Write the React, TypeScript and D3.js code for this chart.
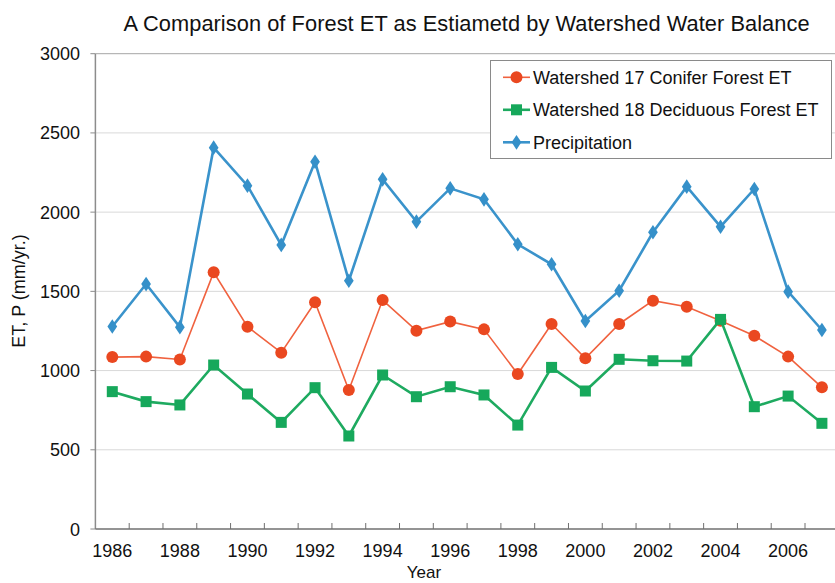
import { line, scaleBand, scaleLinear, symbol, symbolDiamond } from "d3";

const years = [
  1986, 1987, 1988, 1989, 1990, 1991, 1992, 1993, 1994, 1995, 1996, 1997,
  1998, 1999, 2000, 2001, 2002, 2003, 2004, 2005, 2006, 2007,
];
const conifer = [
  1085, 1088, 1070, 1620, 1277, 1113, 1431, 877, 1445, 1252, 1309, 1260, 978,
  1294, 1077, 1294, 1441, 1403, 1315, 1220, 1088, 894,
];
const deciduous = [
  867, 804, 783, 1035, 852, 673, 892, 587, 972, 835, 898, 846, 656, 1020, 871,
  1071, 1062, 1060, 1323, 772, 839, 667,
];
const precip = [
  1278, 1546, 1274, 2407, 2167, 1793, 2318, 1567, 2207, 1940, 2150, 2081,
  1797, 1671, 1313, 1504, 1873, 2161, 1908, 2146, 1498, 1256,
];
const yTicks = [0, 500, 1000, 1500, 2000, 2500, 3000];
const xLabelYears = [1986, 1988, 1990, 1992, 1994, 1996, 1998, 2000, 2002, 2004, 2006];

const series = [
  { name: "Watershed 17 Conifer Forest ET", values: conifer, color: "#EA4820", lineColor: "#F0623F", width: 1.6, marker: "circle" },
  { name: "Watershed 18 Deciduous Forest ET", values: deciduous, color: "#16A85B", lineColor: "#1EAA60", width: 2.6, marker: "square" },
  { name: "Precipitation", values: precip, color: "#3590C9", lineColor: "#3A93CB", width: 2.6, marker: "diamond" },
];

const font = "Arial, 'Liberation Sans', Helvetica, sans-serif";

function Marker({ type, x, y, color }: any) {
  if (type === "circle") return <circle cx={x} cy={y} r={6} fill={color} />;
  if (type === "square")
    return <rect x={x - 5.5} y={y - 5.5} width={11} height={11} fill={color} />;
  const d = symbol().type(symbolDiamond).size(62)();
  return <path d={d || ""} transform={`translate(${x},${y}) scale(1.15,1)`} fill={color} />;
}

export default function App() {
  const width = 835;
  const height = 583;
  const left = 95.4;
  const right = 838.8;
  const top = 53.7;
  const bottom = 529;

  const x = scaleBand<number>().domain(years).range([left, right]).padding(0);
  const y = scaleLinear().domain([0, 3000]).range([bottom, top]);
  const cx = (yr: number) => (x(yr) as number) + x.bandwidth() / 2;

  const boundaries = years.slice(1).map((yr) => x(yr) as number);

  return (
    <svg
      width={width}
      height={height}
      style={{ position: "absolute", left: 0, top: 0, background: "#fff" }}
      fontFamily={font}
    >
      <rect width={width} height={height} fill="#fff" />
      <text x={466.5} y={31} fontSize={21.8} textAnchor="middle" fill="#111" textLength={686} lengthAdjust="spacing">
        A Comparison  of Forest ET as Estiametd by Watershed Water Balance
      </text>

      {/* grid */}
      {yTicks.slice(1, -1).map((t) => (
        <line key={t} x1={left} x2={width} y1={y(t)} y2={y(t)} stroke="#d9d9d9" strokeWidth={1} />
      ))}
      <line x1={left} x2={width} y1={top} y2={top} stroke="#a6a6a6" strokeWidth={1} />

      {/* y axis */}
      <line x1={left} x2={left} y1={top} y2={bottom} stroke="#8c8c8c" strokeWidth={1.5} />
      {yTicks.map((t) => (
        <g key={t}>
          <line x1={left - 5} x2={left} y1={y(t)} y2={y(t)} stroke="#8c8c8c" />
          <text x={80} y={y(t) + 6.5} fontSize={18} textAnchor="end" fill="#111">
            {t}
          </text>
        </g>
      ))}

      {/* x axis */}
      <line x1={left} x2={width} y1={bottom} y2={bottom} stroke="#707070" strokeWidth={1.5} />
      {boundaries.map((b) => (
        <line key={b} x1={b} x2={b} y1={bottom - 6} y2={bottom} stroke="#707070" />
      ))}
      {xLabelYears.map((yr) => (
        <text key={yr} x={cx(yr)} y={556.5} fontSize={18} textAnchor="middle" fill="#111">
          {yr}
        </text>
      ))}
      <text x={424} y={578} fontSize={17} textAnchor="middle" fill="#111">
        Year
      </text>
      <text
        transform={`translate(24.5,291) rotate(-90)`}
        fontSize={18}
        textAnchor="middle"
        fill="#111"
      >
        ET, P (mm/yr.)
      </text>

      {/* series */}
      {series.map((s) => {
        const pts: [number, number][] = s.values.map((v, i) => [cx(years[i]), y(v)]);
        return (
          <g key={s.name}>
            <path d={line()(pts) || ""} fill="none" stroke={s.lineColor} strokeWidth={s.width} />
            {pts.map(([px, py], i) => (
              <Marker key={i} type={s.marker} x={px} y={py} color={s.color} />
            ))}
          </g>
        );
      })}

      {/* legend */}
      <rect x={490.5} y={60.5} width={341} height={98} fill="#fff" stroke="#8a8a8a" strokeWidth={1} />
      {series.map((s, i) => {
        const ly = 77.3 + i * 32.5;
        return (
          <g key={s.name}>
            <line x1={503} x2={530} y1={ly} y2={ly} stroke={s.lineColor} strokeWidth={s.width} />
            <Marker type={s.marker} x={516.5} y={ly} color={s.color} />
            <text x={533} y={ly + 6.5} fontSize={18} fill="#111">
              {s.name}
            </text>
          </g>
        );
      })}
    </svg>
  );
}
